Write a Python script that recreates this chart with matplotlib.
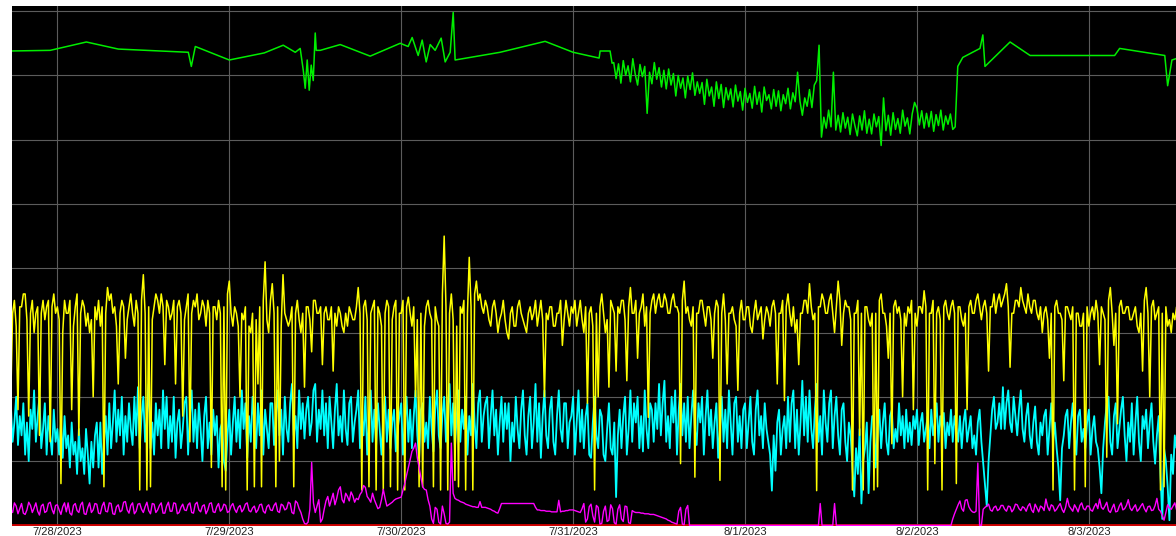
import matplotlib
matplotlib.use('Agg')
import matplotlib.pyplot as plt
import matplotlib.dates as mdates
from matplotlib.ticker import FuncFormatter
import numpy as np
import pandas as pd

# yellow / cyan / magenta: 15-minute samples from 2023-07-27 17:30
grid_start = '2023-07-27 17:30'

yellow = [
    20, 33, 35, 31, 18, 34, 34, 36, 36, 32, 17, 33, 35, 30, 33, 34, 14, 33, 35, 32, 34, 35, 13, 34, 36, 33,
    34, 32, 6.5, 30, 35, 33, 33, 35, 18, 31, 34, 36, 14, 33, 35, 34, 31, 33, 30, 32, 20, 34, 32, 35,
    31, 34, 6, 33, 37, 35, 36, 33, 34, 31, 22, 33, 35, 34, 26, 32, 34, 36, 33, 31, 35, 33, 5.5, 35,
    39, 33, 5.5, 34, 6, 32, 34, 36, 35, 33, 36, 34, 25, 35, 34, 32, 33, 35, 22, 34, 35, 33, 17, 32,
    34, 36, 13, 33, 35, 34, 36, 32, 33, 35, 34, 31, 35, 33, 9, 34, 34, 32, 35, 33, 6, 34, 5.5, 36,
    38, 33, 31, 34, 33, 31, 20, 33, 32, 34, 5.5, 31, 30, 33, 6, 32, 22, 34, 6, 35, 41, 32, 30, 35,
    37.6, 33, 6, 34, 10, 31, 39, 33, 32, 31, 32, 34, 6, 33, 35, 32, 30, 33, 21.5, 34, 34, 32, 27, 35,
    35, 33, 33, 34, 25, 33, 34, 32, 32, 34, 24, 33, 31, 34, 33, 31, 30, 33, 31, 34, 33, 32, 32, 34,
    37, 33, 5.5, 34, 35, 32, 6, 33, 34, 35, 5.5, 34, 33, 31, 5.5, 33, 35, 34, 6, 32, 34, 35, 5.5, 33,
    33, 35, 5.5, 34, 35.5, 33, 31, 34, 20, 32, 6, 33, 6, 31, 34, 35, 33, 32, 6, 34, 32, 31, 5.5, 36,
    45, 34, 5.5, 33, 36, 32, 7, 31, 6, 34, 33, 35, 5.5, 33, 41.7, 34, 5.5, 36, 38, 35, 36, 34, 33, 35,
    34, 32, 31, 34, 35, 33, 30, 32, 33, 35, 32, 30, 29, 33, 34, 31, 31, 34, 35, 33, 32, 31, 30, 33,
    34, 32, 33, 35, 31, 33, 35, 32, 20, 33, 32, 34, 34, 31, 31, 33, 33, 35, 28, 32, 35, 33, 31, 34,
    33, 35, 31, 33, 35, 32, 30, 34, 19, 33, 34, 31, 5.5, 33, 20, 34, 36, 33, 30, 32, 21.5, 35, 34, 33,
    24, 34, 33, 35, 35, 32, 22.5, 34, 37, 33, 33, 35, 26, 33, 34, 36, 31, 34, 16.8, 33, 35, 36, 33, 35,
    36, 34, 34, 36, 35, 33, 33, 35, 36, 34, 34, 33, 9.6, 35, 38, 33, 34, 32, 31, 34, 7.5, 33, 33, 35,
    35, 33, 31, 34, 34, 32, 26, 33, 35, 34, 7, 33, 36, 32, 22, 33, 33, 34, 32, 31, 21, 33, 35, 32,
    32, 34, 34, 31, 30, 33, 35, 32, 33, 34, 29, 32, 34, 33, 31, 34, 35, 33, 22, 33, 33, 35, 19.4, 34,
    36, 33, 31, 34, 30, 32, 25, 33, 33, 35, 35, 33, 37.6, 34, 32, 33, 5.4, 34, 34, 36, 35, 33, 33, 35,
    36, 33, 30, 34, 38, 35, 28, 33, 35, 34, 34, 32, 5.5, 33, 33, 35, 14, 33, 5.5, 34, 34, 32, 31, 33,
    5.5, 33, 6, 35, 36, 33, 33, 31, 26, 33, 12.7, 34, 35, 33, 34, 32, 20, 33, 31, 34, 33, 35, 18, 33,
    31, 34, 34, 33, 36.5, 34, 5.5, 33, 33, 35, 9.6, 33, 34, 32, 5.5, 34, 35, 33, 32, 34, 35, 33, 6.5, 34,
    34, 32, 31, 33, 18, 34, 35, 33, 33, 35, 36, 34, 32, 34, 35, 33, 24, 34, 34, 36, 33, 35, 36, 34,
    35, 36, 37.6, 34, 24.6, 33, 33, 35, 35, 34, 37, 35, 34, 33, 36, 34, 33, 35, 35, 33, 32, 34, 30, 33,
    34, 32, 26, 33, 5.5, 34, 35, 33, 33, 32, 22.5, 34, 34, 33, 32, 34, 5.5, 33, 33, 31, 31, 33, 6, 34,
    31, 33, 34, 32, 35, 33, 25, 34, 33, 32, 10.6, 35, 37, 33, 28, 33, 15.8, 34, 35, 33, 33, 34, 34, 32,
    32, 33, 34, 31, 30, 33, 24, 35, 37, 33, 20, 34, 35, 32, 33, 34, 5.5, 33, 6, 34, 31, 32, 30, 33, 32, 34, 33, 33,
]

cyan = [
    19, 13, 16, 20, 12.5, 17, 14, 19, 11, 16, 10, 18, 15, 21, 13, 17, 20, 12, 15, 19, 11, 17, 14, 11, 18, 13,
    15, 11, 16, 10.5, 17, 12, 14, 9, 16, 11, 13, 8, 15, 10, 12, 8, 15, 11, 6.5, 13, 9, 14, 16, 9,
    16, 8, 13, 17, 11, 19, 12, 16, 21, 13, 18, 14, 20, 11, 17, 13, 19, 15, 12.5, 20, 14, 21.5, 12, 17,
    20, 13, 17, 22, 12, 16, 11, 19, 14, 18, 12, 21, 15, 20, 12, 17, 13, 20, 10.5, 16, 18, 12, 15, 19,
    20, 11, 17, 21, 13, 18, 12, 19, 15, 10, 17, 20, 12, 16, 11, 18, 14, 17, 9, 15, 16, 10, 8.5, 14,
    18, 11, 16, 20, 13, 18, 12, 21, 15, 19, 10.5, 17, 13, 20, 16, 12, 19, 14, 21, 11, 18, 15, 12, 19,
    19, 12.5, 17, 21, 14, 18, 11, 20, 15, 13, 19, 22, 14, 17, 12, 21, 15, 19, 13.5, 18, 20, 14, 16, 21,
    22, 13, 18, 15, 21, 14, 19, 12, 20, 16, 12, 18, 22, 14, 17, 13, 21, 15, 12.5, 19, 20, 13, 16, 18,
    21, 12, 17, 14, 20, 11, 16, 21, 13, 18, 12.5, 19, 15, 11, 17, 20, 13, 18, 12, 16, 18, 11.5, 15, 17,
    19, 11, 16, 20, 13, 18, 12, 17, 21, 14, 10.5, 18, 19, 13, 16, 12, 20, 15, 11.5, 18, 21, 14, 12, 17,
    20, 13, 18, 22, 14, 19, 12, 17, 21, 13, 18, 15, 20, 11, 17, 14, 22, 16, 12, 19, 21, 13, 17, 19,
    20, 12, 17, 21, 14, 18, 11, 16, 20, 13, 19, 15, 19, 10, 16, 13, 20, 15, 12, 18, 21, 14, 11, 17,
    20, 12, 16, 22, 13, 19, 10.5, 17, 21, 14, 12, 18, 20, 13, 11, 17, 21, 15, 13, 19, 19, 12, 16, 17,
    20, 11, 16, 21, 13, 18, 12, 17, 19, 11, 10.5, 16, 20, 14, 12, 18, 17, 11, 10, 15, 19, 12, 11, 16,
    4.4, 14, 18, 12, 17, 20, 11, 15, 21, 13, 19, 16, 20, 12, 17, 11.5, 21, 15, 12, 19, 18, 13, 19, 15,
    22, 14, 19, 22.5, 13, 17, 12, 20, 16, 21, 11, 18, 22, 14, 19, 13, 20, 12, 17, 21, 15, 12.5, 19, 16,
    20, 11, 17, 21, 14, 18, 12, 16, 19, 10.5, 15, 20, 13, 18, 12, 21, 16, 11, 19, 20, 13, 17, 12, 18,
    19, 12, 16, 20, 13, 11, 18, 21, 14, 17, 12, 19, 15, 13, 11, 5.4, 14, 8.5, 16, 18, 11, 15, 17, 12,
    20, 13, 19, 21, 12, 18, 11, 16, 22.5, 14, 20, 13, 21, 15, 12, 18, 22, 13, 17, 11, 21, 16, 13, 19,
    21, 12, 17, 20, 14, 11, 18, 19, 13, 10, 16, 14, 9, 4.5, 12, 8, 15, 3.4, 10, 12, 16, 5, 13, 17,
    17, 9, 15, 18, 12, 16, 19, 13, 11, 17, 18, 12, 15, 13, 19, 14, 17, 12, 18, 13, 16, 12.5, 17, 15,
    18, 12.5, 16, 17.5, 13, 15, 17, 12, 18, 14, 16, 19, 13, 17, 15, 17.5, 12, 16, 14, 18, 13, 17, 15, 13,
    17, 12, 16, 18, 13, 15, 17, 12, 14, 11, 16, 18, 13, 9.6, 6, 3, 10, 14, 18, 20, 15, 16, 19, 15,
    21.5, 15, 19, 21, 16, 14.5, 20, 17, 14, 18, 21, 15, 13, 17, 19, 14, 12, 16, 18.5, 13, 11, 16, 14, 17,
    18, 11, 15, 19, 13, 16, 12, 9, 3.9, 12, 14, 17, 18, 12, 16, 19, 14, 11, 17, 18, 13, 15, 12, 16,
    18, 11, 15, 17, 13, 12, 9, 5, 12, 16, 19, 20, 13, 11, 17, 19, 12, 15, 18, 20, 14, 10, 16, 13,
    19, 11, 16, 20, 13, 10, 17, 15, 18, 12, 16, 19, 13, 9.6, 14, 17, 8, 1, 12, 10, 6, 0.8, 11, 8, 14, 12, 15, 11,
]

magenta = [
    2.5, 2.0, 3.5, 3.0, 1.8, 2.6, 3.4, 1.9, 1.7, 2.4, 3.6, 3.1, 2.0, 2.7, 3.5, 2.2, 1.6, 3.0, 3.3, 2.0, 2.2, 3.4, 3.6, 2.5, 1.8, 3.1,
    3.2, 2.4, 1.7, 2.9, 3.5, 2.1, 3.5, 1.9, 1.6, 3.1, 3.4, 2.3, 2.0, 3.2, 3.6, 1.8, 1.7, 2.8, 3.5, 2.0, 2.4, 3.4, 3.3, 1.9,
    1.8, 3.0, 3.6, 2.2, 2.1, 3.5, 3.4, 1.8, 1.7, 2.9, 3.2, 2.1, 2.3, 3.6, 3.7, 2.4, 1.9, 3.1, 3.5, 1.8, 2.2, 3.3, 3.4, 2.5,
    2.0, 2.9, 3.6, 2.3, 1.8, 3.4, 3.3, 2.0, 2.4, 3.1, 3.5, 1.9, 1.9, 3.0, 3.6, 2.2, 2.2, 3.5, 3.4, 1.8, 2.0, 2.8, 3.3, 2.4,
    2.3, 3.2, 3.5, 2.0, 1.9, 3.3, 3.6, 2.4, 2.1, 3.0, 3.2, 1.8, 2.4, 3.4, 3.5, 2.1, 2.0, 2.9, 3.4, 2.2, 2.5, 3.3, 3.1, 2.0,
    2.2, 3.0, 3.4, 2.5, 2.0, 2.8, 3.1, 2.1, 2.5, 3.3, 3.5, 2.3, 2.1, 2.7, 3.0, 2.0, 2.4, 3.2, 3.3, 2.2, 1.9, 2.9, 3.2, 2.4,
    2.3, 3.1, 3.5, 2.2, 2.0, 3.3, 3.1, 2.4, 2.6, 3.6, 3.4, 2.0, 1.8, 3.8, 3.5, 2.6, 2.0, 1.0, 0.3, 0.2, 0.5, 2.5, 9.8, 3.5,
    2.0, 3.0, 4.0, 0.5, 1.0, 2.5, 3.8, 4.5, 3.0, 4.0, 5.0, 3.2, 4.2, 5.5, 6.0, 4.0, 3.5, 5.0, 4.5, 3.8, 5.2, 4.6, 3.6, 4.2,
    4.0, 4.8, 5.2, 6.2, 5.9, 4.5, 4.1, 3.6, 5.0, 4.0, 3.3, 2.6, 2.8, 4.0, 5.6, 4.2, 3.0, 3.2, 3.4, 3.6, 3.9, 4.1, 4.2, 4.3,
    4.4, 5.5, 6.5, 7.8, 9.0, 10.2, 11.5, 12.0, 12.8, 10.5, 9.0, 7.5, 6.0, 5.6, 5.5, 4.0, 3.0, 1.0, 0.3, 2.8, 2.5, 0.5, 0.2, 3.0,
    1.8, 0.3, 0.2, 0.5, 12.8, 5.0, 4.2, 4.0, 3.9, 3.7, 3.6, 3.5, 3.3, 3.2, 3.1, 3.0, 2.9, 2.9, 2.8, 2.8, 3.7, 2.8, 2.8, 2.8,
    2.7, 2.6, 2.5, 2.3, 2.2, 2.0, 1.9, 2.6, 3.4, 3.4, 3.4, 3.4, 3.4, 3.4, 3.4, 3.4, 3.4, 3.4, 3.4, 3.4, 3.4, 3.4, 3.4, 3.4,
    3.4, 3.4, 3.4, 2.8, 2.4, 2.4, 2.3, 2.3, 2.3, 2.2, 2.2, 2.2, 2.1, 2.1, 2.1, 2.1, 3.9, 2.1, 2.2, 2.2, 2.3, 2.3, 2.4, 2.4,
    2.4, 2.3, 2.2, 2.1, 2.0, 2.6, 3.4, 0.5, 1.0, 2.9, 3.3, 1.5, 0.5, 3.1, 2.8, 0.2, 0.3, 2.2, 3.0, 0.6, 0.8, 3.2, 2.6, 0.4,
    0.2, 2.5, 3.2, 1.0, 0.6, 3.0, 2.9, 0.4, 0.3, 2.3, 2.1, 2.0, 2.0, 2.0, 1.9, 1.9, 1.8, 1.8, 1.8, 1.7, 1.7, 1.7, 1.6, 1.5,
    1.4, 1.3, 1.2, 1.1, 1.0, 0.8, 0.7, 0.5, 0.4, 0.3, 0.2, 2.2, 2.8, 0.2, 0.1, 2.5, 3.1, 0, 0, 0, 0, 0, 0, 0,
    0, 0, 0, 0, 0, 0, 0, 0, 0, 0, 0, 0, 0, 0, 0, 0, 0, 0, 0, 0, 0, 0, 0, 0,
    0, 0, 0, 0, 0, 0, 0, 0, 0, 0, 0, 0, 0, 0, 0, 0, 0, 0, 0, 0, 0, 0, 0, 0,
    0, 0, 0, 0, 0, 0, 0, 0, 0, 0, 0, 0, 0, 0, 0, 0, 0, 0, 3.4, 0, 0, 0, 0, 0,
    0, 0, 3.4, 0, 0, 0, 0, 0, 0, 0, 0, 0, 0, 0, 0, 0, 0, 0, 0, 0, 0, 0, 0, 0,
    0, 0, 0, 0, 0, 0, 0, 0, 0, 0, 0, 0, 0, 0, 0, 0, 0, 0, 0, 0, 0, 0, 0, 0,
    0, 0, 0, 0, 0, 0, 0, 0, 0, 0, 0, 0, 0, 0, 0, 0, 0, 0, 0, 0, 1.0, 1.8, 2.5, 3.2,
    3.8, 2.6, 2.2, 3.9, 4.0, 2.9, 2.4, 2.1, 2.0, 2.2, 9.7, 0, 0, 2.5, 2.8, 3.0, 3.3, 2.4, 2.2, 2.8, 3.0, 2.3, 2.5, 3.1,
    3.1, 2.5, 2.2, 3.0, 2.9, 2.1, 2.5, 3.3, 3.2, 2.6, 2.3, 2.9, 2.7, 2.2, 3.0, 3.4, 2.4, 2.0, 3.3, 2.7, 2.1, 3.0, 2.8, 2.3,
    4.1, 2.9, 2.3, 3.2, 3.0, 2.2, 2.5, 3.0, 3.4, 2.5, 2.0, 2.8, 4.2, 3.0, 2.6, 2.2, 3.2, 2.7, 2.1, 3.1, 3.5, 2.6, 2.4, 3.0,
    3.0, 2.4, 2.2, 2.9, 3.4, 2.6, 4.1, 2.8, 2.5, 3.0, 3.6, 2.3, 2.0, 2.7, 3.3, 2.1, 2.2, 3.0, 3.5, 2.4, 2.6, 3.1, 4.0, 2.7,
    2.3, 2.8, 3.2, 2.2, 2.5, 3.0, 3.4, 2.6, 2.1, 2.9, 3.0, 2.3, 2.4, 3.1, 4.2, 2.5, 2.2, 1.5, 0.8, 2.0, 3.2, 2.7, 2.5, 3.0, 3.5, 2.4, 2.6, 3.0,
]

# green: irregular samples, hours since 2023-07-28 00:00
green_hours_a = [-6.6, -1.0, 4.05, 8.5, 18.28, 18.7, 19.26, 24.0, 28.88, 31.53,
                 33.21, 33.9, 34.33, 34.6, 34.88, 35.16, 35.44, 35.72, 36.0, 36.14,
                 36.7, 39.49, 43.67, 47.86, 48.97, 49.53, 50.37, 50.93, 51.49, 52.05,
                 52.74, 53.58, 54.14, 54.84, 55.26, 55.53, 61.81, 68.09, 72.0, 75.63,
                 75.77, 77.16, 77.44]
green_vals_a = [73.8, 73.9, 75.2, 74.1, 73.6, 71.4, 74.5, 72.4, 73.5, 74.7,
                73.6, 74.2, 70.8, 68.0, 72.4, 67.7, 71.6, 69.2, 76.6, 73.9,
                73.9, 74.8, 73.0, 75.0, 74.5, 75.9, 73.1, 75.5, 72.1, 74.8,
                73.9, 75.8, 72.1, 73.6, 79.8, 72.4, 73.6, 75.3, 73.6, 72.7,
                73.8, 73.8, 71.9]

# green noisy stretch, 20-minute samples from hour 77.67
green_noisy_start_h = 77.67
green_noisy = [
    72.0, 69.5, 71.8, 68.8, 72.3, 70.0, 71.5, 69.0, 72.6, 70.2, 68.5, 71.7,
    69.8, 71.4, 64.1, 70.5, 68.7, 72.0, 69.4, 71.2, 68.2, 70.8, 67.9, 71.0,
    68.5, 70.3, 66.8, 70.0, 68.0, 69.6, 66.5, 69.9, 67.8, 70.4, 66.9, 69.0,
    67.2, 68.9, 65.5, 69.4, 66.8, 68.2, 65.2, 69.0, 66.4, 68.6, 65.0, 68.1,
    66.2, 67.9, 65.1, 68.5, 66.0, 67.5, 64.6, 68.0, 65.8, 67.2, 64.9, 68.3,
    65.5, 67.4, 64.3, 68.2, 66.1, 67.0, 64.8, 67.8, 65.2, 67.6, 64.5, 67.0,
    65.6, 68.0, 64.8, 67.3, 65.9, 70.5, 66.0, 63.8, 66.5, 65.2, 67.8, 65.0,
    68.5, 69.2, 74.7, 60.4, 63.5, 61.8, 64.6, 62.0, 70.5, 61.5, 63.8, 61.2,
    64.2, 61.8, 63.5, 60.8, 64.0, 62.2, 60.6, 63.7, 61.5, 64.5, 61.0, 63.2,
    60.9, 64.0, 62.0, 63.6, 59.1, 66.5, 61.4, 63.8, 60.7, 64.2, 61.6, 63.3,
    61.0, 64.6, 62.1, 63.4, 60.9, 64.0, 65.8, 64.9, 62.3, 64.5, 61.8, 64.1,
    62.0, 64.4, 61.3, 63.9, 62.2, 64.6, 61.5, 63.7, 62.4, 64.0, 61.6, 62.0,
]

green_hours_b = [125.7, 126.4, 128.8, 129.2, 129.5, 133.0, 135.8, 147.6, 148.3,
                 154.6, 155.0, 155.6, 156.7]
green_vals_b = [71.4, 72.8, 74.2, 76.3, 71.4, 75.2, 73.1, 73.1, 74.2,
                73.1, 68.4, 72.4, 72.8]

day_ticks = pd.date_range('2023-07-28', '2023-08-03', freq='D')

# time axes
t_yellow = pd.date_range(grid_start, periods=len(yellow), freq='15min')
t_cyan = pd.date_range(grid_start, periods=len(cyan), freq='15min')
t_mag = pd.date_range(grid_start, periods=len(magenta), freq='15min')
day0 = pd.Timestamp('2023-07-28')
noisy_hours = green_noisy_start_h + np.arange(len(green_noisy)) / 3.0
g_hours = np.concatenate([green_hours_a, noisy_hours, green_hours_b])
g_vals = np.concatenate([green_vals_a, green_noisy, green_vals_b])
t_green = day0 + pd.to_timedelta(g_hours, unit='h')

fig = plt.figure(figsize=(11.76, 5.36), dpi=100)
fig.patch.set_facecolor('white')
ax = fig.add_axes([12 / 1176, 10 / 536, 1164 / 1176, 520 / 536])
ax.set_facecolor('black')

ax.axhline(0, color='#d00000', lw=2, zorder=2)
ax.plot(t_cyan, cyan, color='#00ffff', lw=1.3, zorder=3)
ax.plot(t_yellow, yellow, color='#ffff00', lw=1.1, zorder=4)
ax.plot(t_mag, magenta, color='#ff00ff', lw=1.0, zorder=5)
ax.plot(t_green, g_vals, color='#00ee00', lw=1.1, zorder=5)

ax.set_xlim(pd.Timestamp('2023-07-27 17:40'), pd.Timestamp('2023-08-03 12:10'))
ax.set_ylim(-0.1, 80.8)
ax.set_yticks(np.arange(10, 81, 10))
ax.set_xticks(day_ticks)
ax.xaxis.set_major_formatter(FuncFormatter(
    lambda v, p: '{0.month}/{0.day}/{0.year}'.format(mdates.num2date(v))))
ax.tick_params(axis='x', length=0, pad=1, labelsize=8, colors='#222222')
ax.tick_params(axis='y', length=0, labelleft=False)
for lbl in ax.get_xticklabels():
    lbl.set_family('Liberation Sans')
ax.grid(True, color='#5c5c5c', lw=0.8)
ax.set_axisbelow(True)
for s in ax.spines.values():
    s.set_visible(False)

fig.savefig('out.png', dpi=100, facecolor='white')
